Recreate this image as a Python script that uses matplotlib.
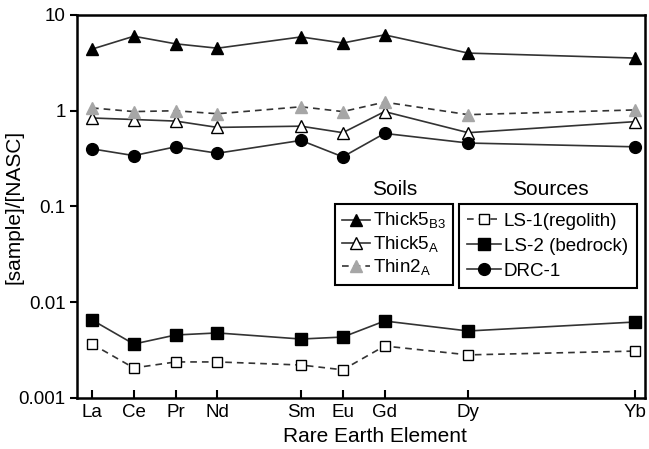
import numpy as np
import matplotlib
matplotlib.use('Agg')
import matplotlib.pyplot as plt

# rare earth elements, placed by atomic number
elements = ['La', 'Ce', 'Pr', 'Nd', 'Sm', 'Eu', 'Gd', 'Dy', 'Yb']
atomic_no = [57, 58, 59, 60, 62, 63, 64, 66, 70]

thick5_b3 = [4.4, 6.0, 5.0, 4.5, 5.9, 5.1, 6.2, 4.0, 3.55]
thick5_a = [0.84, 0.81, 0.78, 0.67, 0.69, 0.59, 0.98, 0.59, 0.77]
thin2_a = [1.07, 0.98, 1.0, 0.93, 1.10, 0.98, 1.23, 0.91, 1.02]
ls1 = [0.00366, 0.00206, 0.00238, 0.00238, 0.00221, 0.00197, 0.00349, 0.00282, 0.00309]
ls2 = [0.00653, 0.00366, 0.00455, 0.00478, 0.00413, 0.00433, 0.00637, 0.00501, 0.00622]
drc1 = [0.40, 0.34, 0.42, 0.36, 0.49, 0.33, 0.58, 0.46, 0.42]

plt.rcParams['font.family'] = ['Liberation Sans', 'DejaVu Sans']
plt.rcParams['mathtext.fontset'] = 'custom'
plt.rcParams['mathtext.rm'] = 'Liberation Sans'
fs = 13.5      # ticks, legend
fs_lab = 15    # axis labels, legend headings
lc = '#333333'
grey = '#a6a6a6'
dash = (0, (4, 3))

fig = plt.figure(figsize=(6.49, 4.49), dpi=100)
ax = fig.add_axes([0.1186, 0.1136, 0.8752, 0.853])

h1, = ax.plot(atomic_no, thick5_b3, color=lc, lw=1.2, marker='^', ms=9,
              mfc='black', mec='black', label='Thick5$_{\\mathregular{B3}}$')
h2, = ax.plot(atomic_no, thick5_a, color=lc, lw=1.2, marker='^', ms=9,
              mfc='white', mec='black', mew=1.0, label='Thick5$_{\\mathregular{A}}$')
h3, = ax.plot(atomic_no, thin2_a, color=lc, lw=1.2, ls=dash, marker='^', ms=9,
              mfc=grey, mec=grey, label='Thin2$_{\\mathregular{A}}$')
h4, = ax.plot(atomic_no, ls1, color=lc, lw=1.2, ls=dash, marker='s', ms=7,
              mfc='white', mec='black', mew=1.0, label='LS-1(regolith)')
h5, = ax.plot(atomic_no, ls2, color=lc, lw=1.2, marker='s', ms=8,
              mfc='black', mec='black', label='LS-2 (bedrock)')
h6, = ax.plot(atomic_no, drc1, color=lc, lw=1.2, marker='o', ms=8.5,
              mfc='black', mec='black', label='DRC-1')

ax.set_yscale('log')
ax.set_ylim(0.001, 10)
ax.set_xlim(56.64, 70.23)
ax.set_xticks(atomic_no)
ax.set_xticklabels(elements, fontsize=fs)
ax.set_yticks([0.001, 0.01, 0.1, 1, 10])
ax.set_yticklabels(['0.001', '0.01', '0.1', '1', '10'], fontsize=fs)
ax.yaxis.set_minor_locator(matplotlib.ticker.NullLocator())
ax.tick_params(axis='x', direction='in', length=6, width=1.5, pad=4)
ax.tick_params(axis='y', direction='out', length=5, width=1.5, pad=3)
for s in ax.spines.values():
    s.set_linewidth(1.8)

ax.set_xlabel('Rare Earth Element', fontsize=fs_lab)
ax.xaxis.set_label_coords(0.525, -0.075)
ax.set_ylabel('[sample]/[NASC]', fontsize=fs_lab)
ax.yaxis.set_label_coords(-0.095, 0.5)

leg_kw = dict(loc='upper left', fontsize=fs, frameon=True, fancybox=False,
              handletextpad=0.15, borderaxespad=0, framealpha=1)

leg1 = ax.legend(handles=[h1, h2, h3], bbox_to_anchor=(0.454, 0.5065),
                 handlelength=1.5, labelspacing=0.15, borderpad=0.38, **leg_kw)
leg1.get_frame().set_edgecolor('black')
leg1.get_frame().set_linewidth(1.5)
ax.add_artist(leg1)

leg2 = ax.legend(handles=[h4, h5, h6], bbox_to_anchor=(0.6725, 0.5065),
                 handlelength=1.8, labelspacing=0.43, borderpad=0.45, **leg_kw)
leg2.get_frame().set_edgecolor('black')
leg2.get_frame().set_linewidth(1.5)

ax.text(0.56, 0.545, 'Soils', transform=ax.transAxes, ha='center', va='center', fontsize=fs_lab)
ax.text(0.834, 0.545, 'Sources', transform=ax.transAxes, ha='center', va='center', fontsize=fs_lab)

fig.savefig('out.png', dpi=100)
